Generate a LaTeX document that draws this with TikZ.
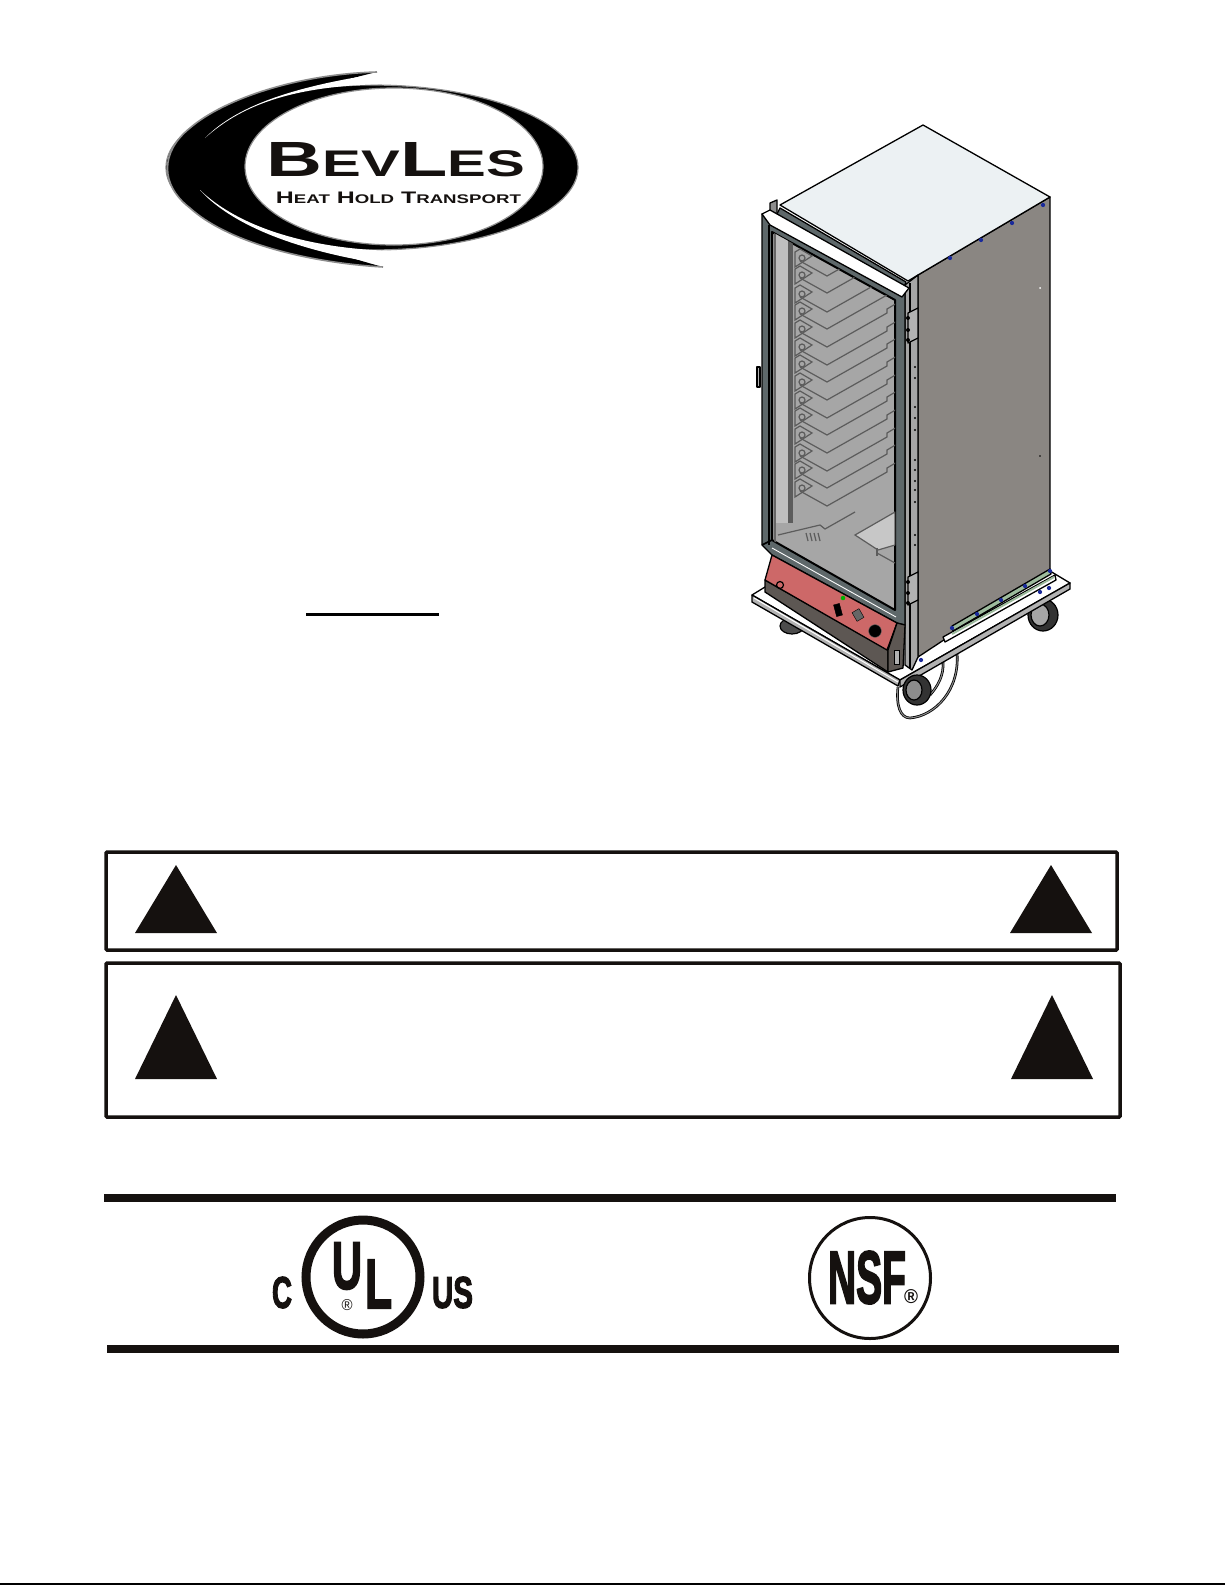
\documentclass[tikz,border=0pt]{standalone}
\usepackage{fontspec}
\setmainfont{Liberation Sans}
\newfontfamily\markfont[FakeBold=3]{Liberation Sans Bold}
\usepackage{xcolor}
\definecolor{topwhite}{HTML}{ECF1F3}
\definecolor{sidegray}{HTML}{8A8682}
\definecolor{framegray}{HTML}{5E686A}
\definecolor{glassgray}{HTML}{A6A6A6}
\definecolor{shelfgray}{HTML}{5C5C5C}
\definecolor{panelred}{HTML}{CD6868}
\definecolor{paneldark}{HTML}{5D5753}
\definecolor{railgreen}{HTML}{9DBB9D}
\definecolor{screwblue}{HTML}{1A2A9A}
\definecolor{inkblack}{HTML}{15110F}
\newcommand{\fitbox}[3]{\resizebox{#1pt}{#2pt}{#3}}
\tikzset{
  fitted/.style={inner sep=0pt,outer sep=0pt,text=inkblack},
  warnbox/.style={draw=inkblack,line width=3.5pt,rounded corners=1pt},
  warntri/.style={fill=inkblack},
  heavyrule/.style={draw=inkblack,line width=8pt},
  shelfline/.style={draw=shelfgray,line width=1.2pt},
  outline/.style={draw=black,line width=1.3pt,line join=round},
  screw/.style={circle,fill=screwblue,inner sep=1.5pt},
}
\begin{document}
\begin{tikzpicture}[x=1pt,y=-1pt]
\useasboundingbox[fill=white] (0,0) rectangle (1225,1585);

% logo
\fill[black] (372,167.5) ellipse [x radius=206,y radius=82.5];
\draw[black!45,line width=1.2pt] (372,167.5) ellipse [x radius=206,y radius=82.5];
\fill[black] (377,72) .. controls (300,74) and (225,98) .. (190,128)
  .. controls (160,152) and (160,185) .. (190,208)
  .. controls (225,240) and (300,262) .. (383,267)
  .. controls (320,250) and (250,225) .. (240,167)
  .. controls (250,110) and (320,85) .. (377,72) -- cycle;
\draw[black!45,line width=1.6pt] (377,72) .. controls (300,74) and (225,98) .. (190,128)
  .. controls (160,152) and (160,185) .. (190,208)
  .. controls (225,240) and (300,262) .. (383,267);
\fill[white] (205,138) .. controls (228,115) and (270,90) .. (377,74)
  -- (390,84) .. controls (300,85) and (245,102) .. (205,138) -- cycle;
\fill[white] (200,190) .. controls (225,218) and (280,248) .. (383,264)
  -- (395,251) .. controls (310,249) and (240,228) .. (200,190) -- cycle;
\fill[white] (394,166.5) ellipse [x radius=149,y radius=78.5];
\draw[black!45,line width=1.2pt] (394,166.5) ellipse [x radius=149,y radius=78.5];
\node[fitted] (brandname) at (396,160) {\fitbox{258}{34}{\textbf{B{\fontsize{7.5}{8}\selectfont EV}L{\fontsize{7.5}{8}\selectfont ES}}}};
\node[fitted] (brandline) at (398.5,197.5) {\fitbox{245}{11.5}{\textbf{H{\fontsize{7.5}{8}\selectfont EAT} H{\fontsize{7.5}{8}\selectfont OLD} T{\fontsize{7.5}{8}\selectfont RANSPORT}}}};

% short rule under the logo
\draw[draw=black,line width=3.3pt] (306,614.5) -- (439,614.5);

% wheels and cords
\begin{scope}[line width=1.2pt]
  \filldraw[fill=black!70] (792,626) ellipse [x radius=12,y radius=8];
  \filldraw[fill=black!80] (1043,615) ellipse [x radius=15,y radius=16];
  \filldraw[fill=black!35] (1040,615) ellipse [x radius=9,y radius=11];
  \draw[black,line width=2.6pt] (898,687) .. controls (896,705) and (900,718) .. (910,718)
    .. controls (935,716) and (960,690) .. (957,653);
  \draw[black!45,line width=1pt] (898,687) .. controls (896,705) and (900,718) .. (910,718)
    .. controls (935,716) and (960,690) .. (957,653);
  \draw[black,line width=2.6pt] (943,662) .. controls (944,675) and (938,686) .. (930,695);
  \draw[black!45,line width=1pt] (943,662) .. controls (944,675) and (938,686) .. (930,695);
\end{scope}

% base plate
\filldraw[fill=white,outline] (752,595) -- (900,680) -- (1070,583) -- (1050,571) -- (900,600) -- (765,587) -- cycle;
\filldraw[fill=black!30,outline] (752,595) -- (900,680) -- (898,686) -- (752,602) -- cycle;
\filldraw[fill=black!30,outline] (900,680) -- (1070,583) -- (1070,589) -- (900,687) -- cycle;
\draw[white,line width=1pt] (754,598) -- (898,682);
\filldraw[fill=black!80,line width=1.2pt] (917,690) ellipse [x radius=14,y radius=15];
\filldraw[fill=black!45,line width=1.2pt] (914,690) ellipse [x radius=8,y radius=10];

% cabinet side and top
\filldraw[fill=sidegray,outline] (918,275) -- (1050,197) -- (1050,570) -- (918,657) -- cycle;
\filldraw[fill=topwhite,outline] (923,125) -- (1050,197) -- (918,275) -- (908,281) -- (780,205) -- cycle;
\filldraw[fill=black!35,outline] (905,285) -- (918,275) -- (918,657) -- (912,670) -- (905,665) -- cycle;
\draw[black,line width=2pt] (910,283) -- (910,668);
\filldraw[fill=framegray,outline] (780,208) -- (906,282) -- (903,290) -- (775,218) -- cycle;
\filldraw[fill=black!45,outline] (770,203) -- (777,200) -- (777,214) -- (770,212) -- cycle;

% rails on the side
\filldraw[fill=railgreen,outline] (952,626) -- (1050,569) -- (1051,574) -- (953,631) -- cycle;
\filldraw[fill=white,outline] (943,637) -- (1055,575) -- (1056,580) -- (945,642) -- cycle;
\draw[railgreen,line width=2pt] (952,634) -- (1054,577);

% door frame and glass
\filldraw[fill=framegray,outline] (762,214) -- (905,292) -- (905,625) -- (897,623) -- (772,555) -- (762,545) -- cycle;
\draw[black,line width=1.6pt] (769,225) -- (769,545);
\filldraw[fill=glassgray,draw=black,line width=2pt,line join=round] (772,232) -- (895,300) -- (895,610) -- (772,540) -- cycle;
\begin{scope}
  \clip (772,232) -- (895,300) -- (895,610) -- (772,540) -- cycle;
  \fill[black!60] (774,225) rectangle (776,545);
  \fill[black!25] (776,225) rectangle (788,523);
  \fill[shelfgray] (788,225) rectangle (793,523);
  \foreach \shelfy in {276,293,312,329,347,365,382,400,418,435,453,471,488,506} {
    \draw[shelfline] (800,{\shelfy-15}) -- (827,\shelfy) -- (887,{\shelfy-34}) -- (887,{\shelfy-38}) -- (897,{\shelfy-44});
    \draw[shelfline] (795,{\shelfy-9}) -- (812,{\shelfy-20}) -- (800,{\shelfy-27}) -- (795,{\shelfy-24}) -- cycle;
    \draw[shelfline] (802,{\shelfy-18}) circle (3);
  }
  \draw[shelfline] (778,535) -- (820,525) -- (825,529) -- (855,512);
  \foreach \hatchx in {806,810,814,818} {
    \draw[shelfline] (\hatchx,533) -- ({\hatchx+2},541);
  }
  \filldraw[fill=black!22,draw=shelfgray,line width=1.2pt] (855,535) -- (895,512) -- (895,545) -- (878,550) -- cycle;
  \draw[shelfline] (877,553) -- (895,563);
  \draw[shelfline] (877,548) -- (877,556);
\end{scope}

% top bar and lower door band
\filldraw[fill=white,outline] (762,214) -- (770,210) -- (909,288) -- (902,297) -- (770,225) -- cycle;
\draw[black,line width=1.6pt] (762,545) -- (772,540);
\draw[white,line width=0.9pt] (772,548) -- (896,617);

% control panel
\filldraw[fill=paneldark,outline] (765,580) -- (888,650) -- (888,672) -- (765,592) -- cycle;
\filldraw[fill=panelred,outline] (772,555) -- (897,623) -- (887,650) -- (765,580) -- cycle;
\filldraw[fill=paneldark,outline] (888,650) -- (897,623) -- (905,625) -- (903,668) -- (888,672) -- cycle;
\draw[line width=1.2pt] (780,585) circle (3.5);
\node[circle,fill=green!70!black,inner sep=1.6pt] (powerled) at (843,598) {};
\filldraw[fill=black,rotate around={15:(838,610)}] (835,604) rectangle (841,616);
\filldraw[fill=black!60,draw=black,rotate around={-60:(858,615)}] (853,611) rectangle (863,619);
\node[circle,fill=black,draw=black!60,inner sep=4.5pt] (tempknob) at (875,631) {};
\filldraw[fill=black!30] (894,650) rectangle (899,664);

% hinges and handle
\filldraw[fill=black!30,outline] (908,313) -- (918,308) -- (918,338) -- (908,343) -- cycle;
\filldraw[fill=black!30,outline] (908,577) -- (918,572) -- (918,600) -- (908,605) -- cycle;
\foreach \knucky in {318,330,340,582,593,603} {
  \fill[black] (908,\knucky) circle (2);
}
\filldraw[fill=black!30,outline] (757,367) rectangle (760,387);

% screws
\node[screw] (topscrewa) at (950,258) {};
\node[screw] (topscrewb) at (981,240) {};
\node[screw] (topscrewc) at (1012,223) {};
\node[screw] (topscrewd) at (1043,205) {};
\node[screw] (railscrewa) at (952,628) {};
\node[screw] (railscrewb) at (977,614) {};
\node[screw] (railscrewc) at (1001,600) {};
\node[screw] (railscrewd) at (1025,586) {};
\node[screw] (railscrewe) at (1050,571) {};
\node[screw] (basescrewa) at (921,660) {};
\node[screw] (basescrewb) at (1040,592) {};
\node[screw] (basescrewc) at (1049,588) {};
\foreach \piny in {367,378,407,418,430,460,470,481,490,502,535,545} {
  \fill[black] (915,\piny) circle (1.1);
}
\fill[white] (1040,288) circle (1);
\fill[black] (1040,456) circle (0.8);

% warning boxes
\draw[warnbox] (106,852) rectangle (1117,950);
\draw[warnbox] (106,963) rectangle (1120,1117);
\fill[warntri] (176,865) -- (217,933) -- (135,933) -- cycle;
\fill[warntri] (1051,865) -- (1092,933) -- (1010,933) -- cycle;
\fill[warntri] (176,995) -- (217,1079) -- (135,1079) -- cycle;
\fill[warntri] (1052,995) -- (1093,1079) -- (1011,1079) -- cycle;

% listing marks
\draw[heavyrule] (104,1198) -- (1116,1198);
\draw[heavyrule] (107,1349) -- (1119,1349);
\draw[inkblack,line width=9pt] (363,1277) circle (57);
\node[fitted] (ulu) at (347,1266) {\fitbox{30}{46}{\markfont U}};
\node[fitted] (ull) at (378.5,1284) {\fitbox{27}{48}{\markfont L}};
\node[fitted] (ulreg) at (347,1305) {\fitbox{11}{11}{®}};
\node[fitted] (ulc) at (282,1292.5) {\fitbox{20}{31}{\markfont C}};
\node[fitted] (ulus) at (452.5,1292.5) {\fitbox{41}{31}{\markfont US}};
\draw[inkblack,line width=3pt] (870,1278) circle (60.5);
\node[fitted] (nsfname) at (867,1277.5) {\fitbox{78}{52}{\markfont NSF}};
\node[fitted] (nsfreg) at (911,1297) {\fitbox{14}{14}{\textbf{®}}};

% page foot line
\draw[black,line width=2pt] (0,1583.5) -- (1225,1583.5);
\end{tikzpicture}
\end{document}
